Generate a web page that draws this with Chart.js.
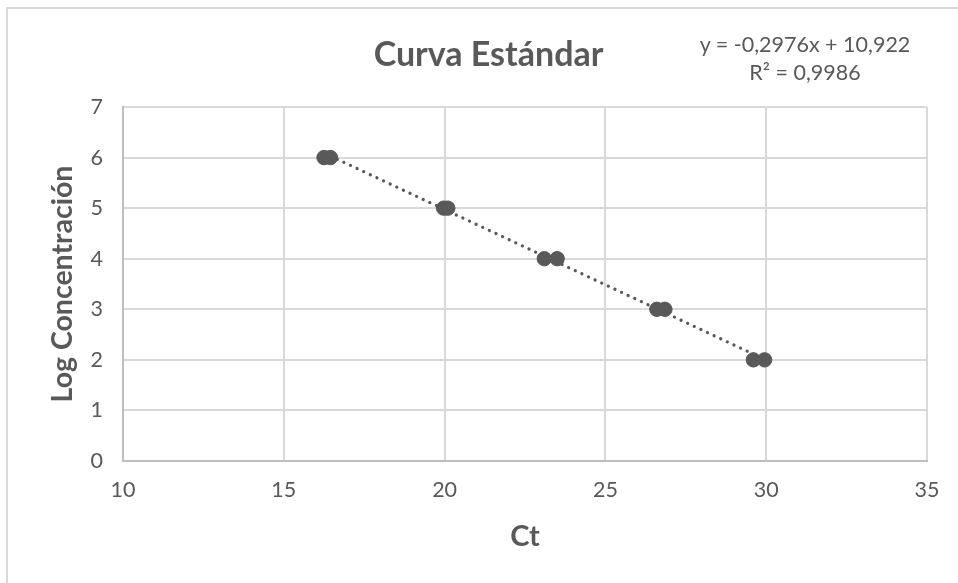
<!DOCTYPE html>
<html>
<head>
<meta charset="utf-8">
<script src="https://cdn.jsdelivr.net/npm/chart.js@4.4.0/dist/chart.umd.min.js"></script>
<style>
  html, body { margin: 0; padding: 0; background: #fff; }
  #wrap { position: relative; width: 958px; height: 583px; overflow: hidden; }
  #c { position: absolute; left: 0; top: 0; }
  #frame { position: absolute; left: 6px; top: 7px; width: 1000px; height: 700px; border: 2px solid #d9d9d9; pointer-events: none; }
  #eq { position: absolute; left: 690px; top: 30px; width: 230px; text-align: center; font-family: Lato, sans-serif; font-size: 21.5px; line-height: 28px; color: #595959; }
</style>
</head>
<body>
<div id="wrap">
  <canvas id="c" width="958" height="583"></canvas>
  <div id="frame"></div>
  <div id="eq">y = -0,2976x + 10,922<br>R² = 0,9986</div>
</div>
<script>
const chartTitle = "Curva Estándar";
const xAxisTitle = "Ct";
const yAxisTitle = "Log Concentración";
const ctValues = [16.25, 16.45, 19.97, 20.1, 23.1, 23.5, 26.6, 26.85, 29.6, 29.95];
const logConc = [6, 6, 5, 5, 4, 4, 3, 3, 2, 2];
const trendX = [16.25, 29.95];
const trendY = [6.09, 2.01];
const xTicks = [10, 15, 20, 25, 30, 35];
const yTicks = [0, 1, 2, 3, 4, 5, 6, 7];

const grey = '#595959';
const points = ctValues.map((x, i) => ({ x: x, y: logConc[i] }));
const trend = trendX.map((x, i) => ({ x: x, y: trendY[i] }));

new Chart(document.getElementById('c'), {
  type: 'scatter',
  data: {
    datasets: [
      {
        type: 'line',
        data: trend,
        borderColor: grey,
        borderWidth: 3.2,
        borderDash: [0.1, 7.2],
        borderCapStyle: 'round',
        pointRadius: 0,
        fill: false,
        order: 2
      },
      {
        data: points,
        backgroundColor: grey,
        borderColor: grey,
        borderWidth: 1,
        pointRadius: 7.2,
        order: 1
      }
    ]
  },
  options: {
    responsive: false,
    animation: false,
    layout: { padding: { left: 50, right: 31, top: 0, bottom: 0 } },
    plugins: {
      legend: { display: false },
      tooltip: { enabled: false },
      title: {
        display: true,
        text: chartTitle,
        color: grey,
        font: { family: 'Lato', size: 34, weight: 'bold', lineHeight: 1.2 },
        padding: { top: 34.6, bottom: 31.6 }
      }
    },
    scales: {
      x: {
        type: 'linear',
        min: 10, max: 35,
        afterBuildTicks: (s) => { s.ticks = xTicks.map(v => ({ value: v })); },
        afterFit: (s) => { s.height = 122; },
        ticks: { color: grey, font: { family: 'Lato', size: 21.5 }, padding: 16 },
        grid: { color: '#d9d9d9', lineWidth: 2, drawTicks: false },
        border: { color: '#bfbfbf', width: 2 },
        title: {
          display: true, text: xAxisTitle, color: grey,
          font: { family: 'Lato', size: 29, weight: 'bold', lineHeight: 1.2 },
          padding: { top: 0, bottom: 29 }
        }
      },
      y: {
        type: 'linear',
        min: 0, max: 7,
        afterBuildTicks: (s) => { s.ticks = yTicks.map(v => ({ value: v })); },
        afterFit: (s) => { s.width = 73; },
        ticks: { color: grey, font: { family: 'Lato', size: 21.5 }, padding: 20 },
        grid: { color: '#d9d9d9', lineWidth: 2, drawTicks: false },
        border: { color: '#bfbfbf', width: 2 },
        title: {
          display: true, text: yAxisTitle, color: grey,
          font: { family: 'Lato', size: 28.5, weight: 'bold', lineHeight: 1.2 },
          padding: { top: -4, bottom: 0 }
        }
      }
    }
  }
});
</script>
</body>
</html>
